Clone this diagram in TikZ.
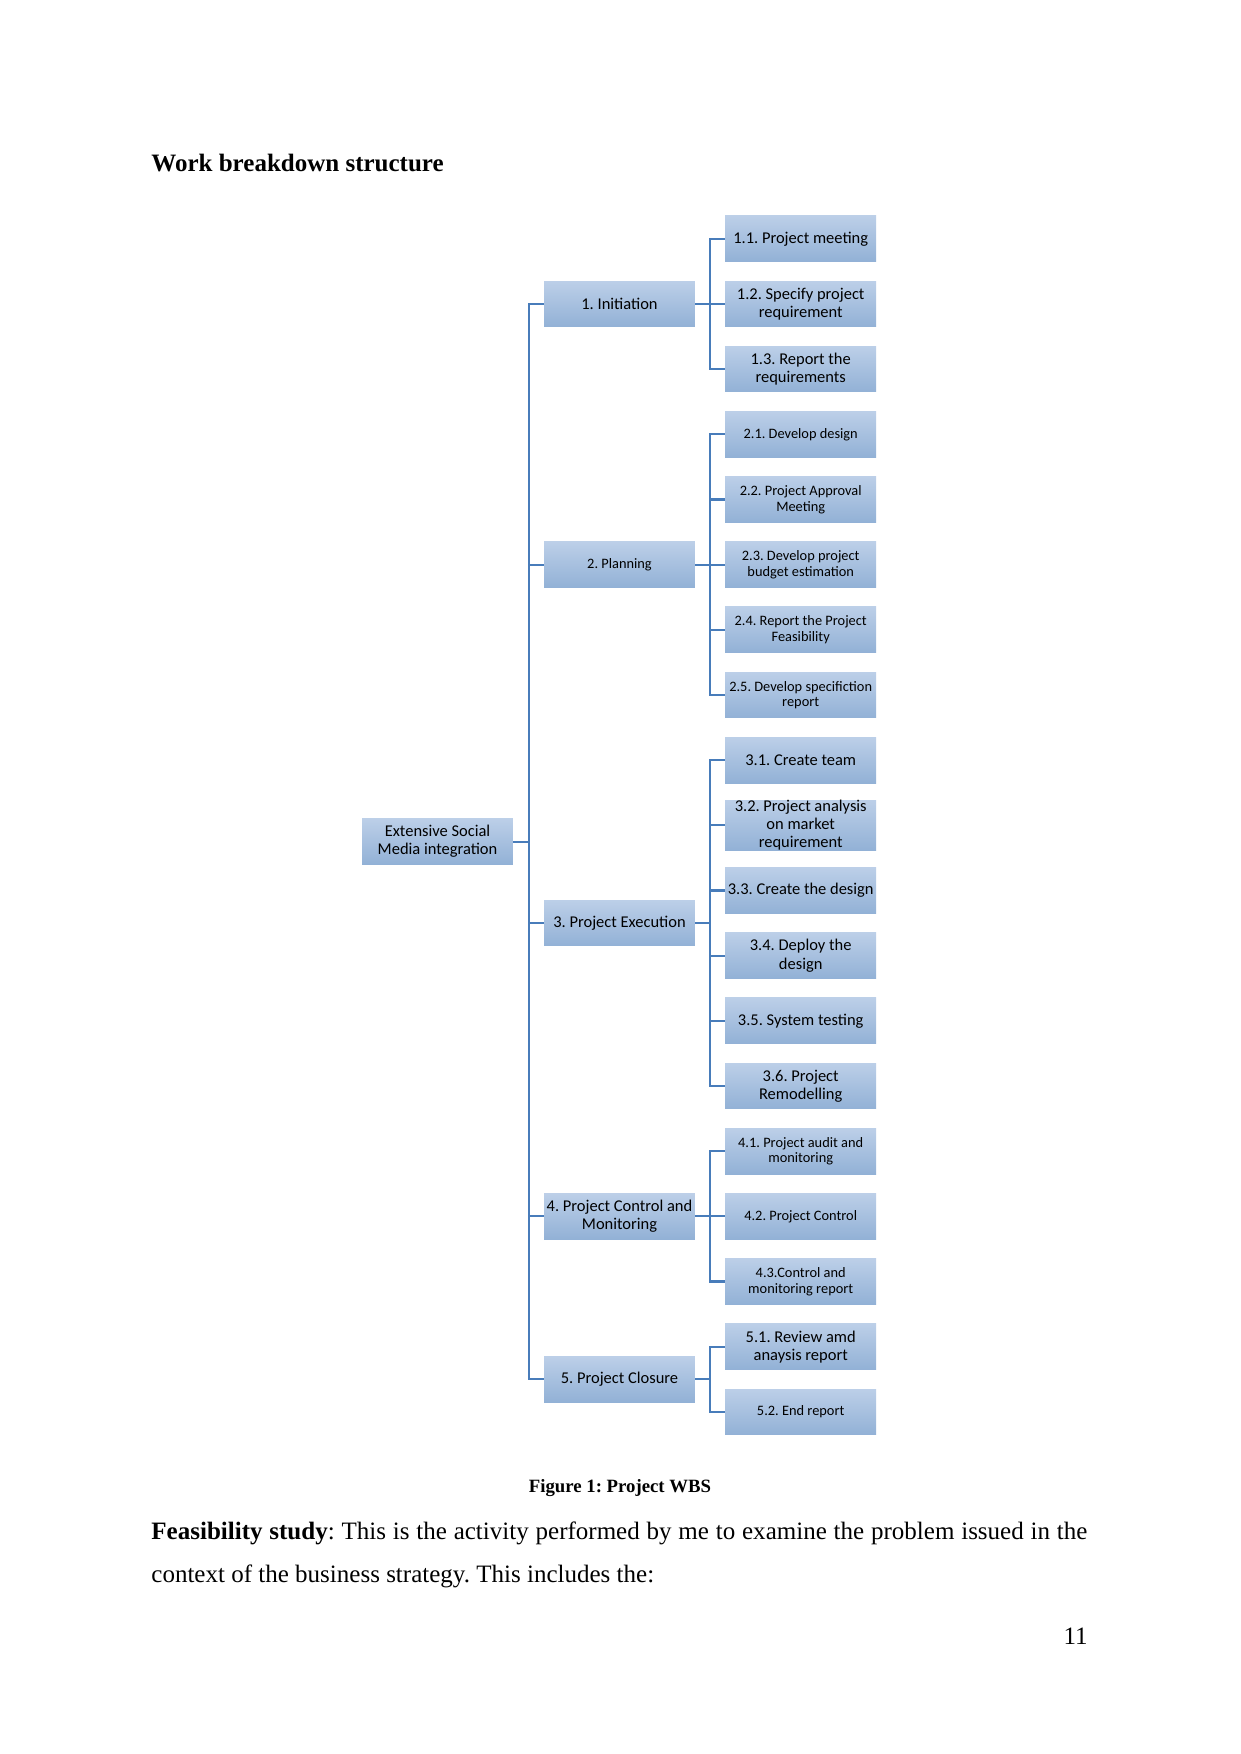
\documentclass[tikz,border=0pt]{standalone}
\usepackage{fontspec}
\setmainfont{Liberation Serif}
\newfontfamily\calib{Carlito}
\definecolor{boxtop}{RGB}{188,207,232}
\definecolor{boxbot}{RGB}{146,177,214}
\definecolor{linec}{RGB}{72,124,186}
\frenchspacing
\begin{document}
\frenchspacing
\begin{tikzpicture}[x=0.4797pt,y=-0.4797pt,
  wbox/.style={rectangle, inner sep=0pt, minimum width=72.4pt, minimum height=21.9pt,
    top color=boxtop, bottom color=boxbot, draw=none, align=center, text=black},
  big/.style={font=\calib\fontsize{7.9}{8.7}\selectfont},
  small/.style={font=\calib\fontsize{6.9}{7.5}\selectfont},
  conn/.style={draw=linec, line width=1pt, line join=miter},
  txt/.style={inner sep=0pt, text=black}]
\useasboundingbox (0,0) rectangle (1241,1754);
\fill[white] (0,0) rectangle (1241,1754);

% page text
\node[txt, anchor=base west, font=\bfseries\fontsize{12}{14}\selectfont] (title) at (151,172) {Work breakdown structure};
\node[txt, anchor=base, font=\bfseries\fontsize{9}{11}\selectfont] (cap) at (620,1492) {Figure 1: Project WBS};
\node[txt, anchor=base west, font=\fontsize{12}{14}\selectfont] (p1) at (151,1539) {\makebox[449pt][s]{\textbf{Feasibility study}: This is the activity performed by me to examine the problem issued in the}};
\node[txt, anchor=base west, font=\fontsize{12}{14}\selectfont] (p2) at (151,1582) {context of the business strategy. This includes the:};
\node[txt, anchor=base east, font=\fontsize{12}{14}\selectfont] (pg) at (1088,1644) {11};

% root and level 1
\node[wbox, big] (root) at (437.5,841.6) {Extensive Social\\Media integration};
\node[wbox, big] (n1) at (619.5,304.0) {1. Initiation};
\node[wbox, small] (n2) at (619.5,564.7) {2. Planning};
\node[wbox, big] (n3) at (619.5,923.1) {3. Project Execution};
\node[wbox, big] (n4) at (619.5,1216.4) {4. Project Control and\\Monitoring};
\node[wbox, big] (n5) at (619.5,1379.3) {5. Project Closure};

% children
\node[wbox, big] (c11) at (800.7,238.8) {1.1. Project meeting};
\node[wbox, big] (c12) at (800.7,304.0) {1.2. Specify project\\requirement};
\node[wbox, big] (c13) at (800.7,369.1) {1.3. Report the\\requirements};
\node[wbox, small] (c21) at (800.7,434.3) {2.1. Develop design};
\node[wbox, small] (c22) at (800.7,499.5) {2.2. Project Approval\\Meeting};
\node[wbox, small] (c23) at (800.7,564.7) {2.3. Develop project\\budget estimation};
\node[wbox, small] (c24) at (800.7,629.8) {2.4. Report the Project\\Feasibility};
\node[wbox, small] (c25) at (800.7,695.0) {2.5. Develop specifiction\\report};
\node[wbox, big] (c31) at (800.7,760.2) {3.1. Create team};
\node[wbox, big] (c32) at (800.7,825.3) {3.2. Project analysis\\on market\\requirement};
\node[wbox, big] (c33) at (800.7,890.5) {3.3. Create the design};
\node[wbox, big] (c34) at (800.7,955.7) {3.4. Deploy the\\design};
\node[wbox, big] (c35) at (800.7,1020.8) {3.5. System testing};
\node[wbox, big] (c36) at (800.7,1086.0) {3.6. Project\\Remodelling};
\node[wbox, small] (c41) at (800.7,1151.2) {4.1. Project audit and\\monitoring};
\node[wbox, small] (c42) at (800.7,1216.4) {4.2. Project Control};
\node[wbox, small] (c43) at (800.7,1281.5) {4.3.Control and\\monitoring report};
\node[wbox, big] (c51) at (800.7,1346.7) {5.1. Review amd\\anaysis report};
\node[wbox, small] (c52) at (800.7,1411.9) {5.2. End report};

% connectors root -> level 1
\foreach \t in {n1,n2,n3,n4,n5}
  \draw[conn] (root.east) -- ++(7.3pt,0) |- (\t.west);
% level 1 -> children
\foreach \t in {c11,c12,c13}
  \draw[conn] (n1.east) -- ++(7.2pt,0) |- (\t.west);
\foreach \t in {c21,c22,c23,c24,c25}
  \draw[conn] (n2.east) -- ++(7.2pt,0) |- (\t.west);
\foreach \t in {c31,c32,c33,c34,c35,c36}
  \draw[conn] (n3.east) -- ++(7.2pt,0) |- (\t.west);
\foreach \t in {c41,c42,c43}
  \draw[conn] (n4.east) -- ++(7.2pt,0) |- (\t.west);
\foreach \t in {c51,c52}
  \draw[conn] (n5.east) -- ++(7.2pt,0) |- (\t.west);
\end{tikzpicture}
\end{document}
